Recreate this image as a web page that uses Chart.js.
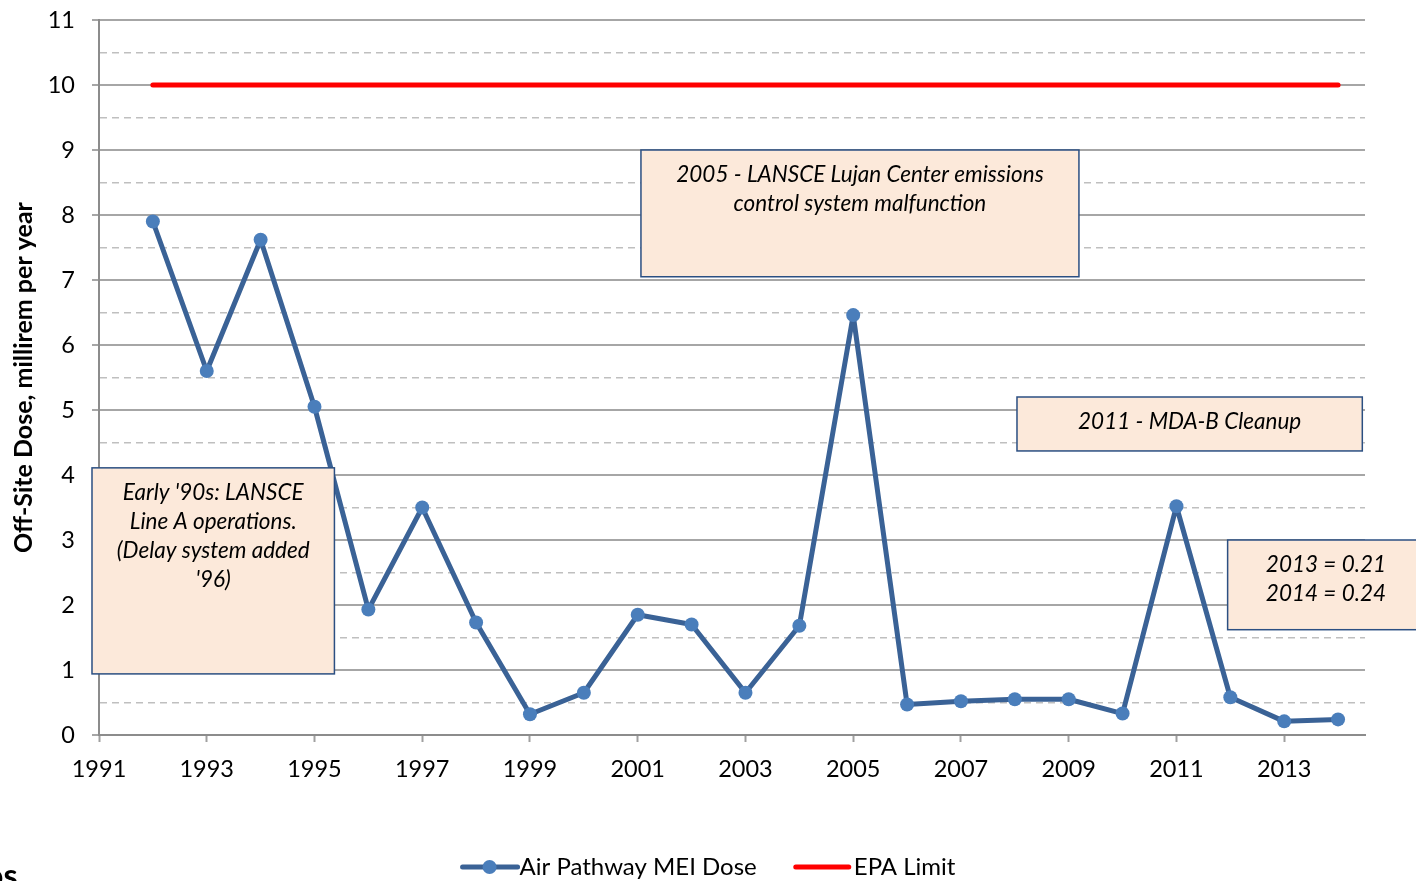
<!DOCTYPE html>
<html>
<head>
<meta charset="utf-8">
<script src="https://cdn.jsdelivr.net/npm/chart.js@4.4.1/dist/chart.umd.min.js"></script>
<style>
    html, body { margin: 0; padding: 0; background: #fff; }
</style>
</head>
<body>
<canvas id="grafica" width="1416" height="881"></canvas>
<script>
var anios = [1992, 1993, 1994, 1995, 1996, 1997, 1998, 1999, 2000, 2001, 2002, 2003,
             2004, 2005, 2006, 2007, 2008, 2009, 2010, 2011, 2012, 2013, 2014];
var dosisMEI = [7.9, 5.6, 7.62, 5.05, 1.93, 3.5, 1.73, 0.32, 0.65, 1.85, 1.7, 0.65,
                1.68, 6.46, 0.47, 0.52, 0.55, 0.55, 0.33, 3.52, 0.58, 0.21, 0.24];
var limiteEPA = [10, 10, 10, 10, 10, 10, 10, 10, 10, 10, 10, 10,
                 10, 10, 10, 10, 10, 10, 10, 10, 10, 10, 10];
var aniosEtiqueta = [1991, 1993, 1995, 1997, 1999, 2001, 2003, 2005, 2007, 2009, 2011, 2013];
var etiquetasY = [0, 1, 2, 3, 4, 5, 6, 7, 8, 9, 10, 11];

var nota90s = ["Early '90s: LANSCE", "Line A operations.", "(Delay system added", "'96)"];
var nota2005 = ["2005 - LANSCE Lujan Center emissions", "control system malfunction"];
var nota2011 = ["2011 - MDA-B Cleanup"];
var nota2013 = ["2013 = 0.21", "2014 = 0.24"];

var fuente = "Lato, 'Open Sans', sans-serif";

function esEntero(ctx) {
    return ctx.tick && Math.abs(ctx.tick.value - Math.round(ctx.tick.value)) < 1e-6;
}

// cajas de texto, en unidades del eje (x = año, y = dosis)
var cajas = [
    { texto: nota90s,  x1: 1990.87, x2: 1995.37, y1: 4.11, y2: 0.94 },
    { texto: nota2005, x1: 2001.06, x2: 2009.19, y1: 9.0,  y2: 7.05 },
    { texto: nota2011, x1: 2008.04, x2: 2014.45, y1: 5.2,  y2: 4.37 },
    { texto: nota2013, x1: 2011.95, x2: 2015.6,  y1: 3.0,  y2: 1.62 }
];

var notasPlugin = {
    id: 'notas',
    afterDatasetsDraw: function(chart) {
        var ctx = chart.ctx, sx = chart.scales.x, sy = chart.scales.y;
        ctx.save();
        cajas.forEach(function(c) {
            var l = sx.getPixelForValue(c.x1), r = sx.getPixelForValue(c.x2);
            var t = sy.getPixelForValue(c.y1), b = sy.getPixelForValue(c.y2);
            ctx.fillStyle = '#FCE9DA';
            ctx.fillRect(l, t, r - l, b - t);
            ctx.strokeStyle = '#2B4F82';
            ctx.lineWidth = 1.5;
            ctx.strokeRect(l, t, r - l, b - t);
            ctx.fillStyle = '#000';
            ctx.font = 'italic 22.5px ' + fuente;
            ctx.textAlign = 'center';
            ctx.textBaseline = 'middle';
            for (var i = 0; i < c.texto.length; i++) {
                ctx.fillText(c.texto[i], (l + r) / 2, t + 25 + i * 29);
            }
        });
        ctx.restore();
    },
    afterDraw: function(chart) {
        var ctx = chart.ctx;
        var ds = chart.data.datasets;
        var yl = chart.height - 14;
        ctx.save();
        ctx.font = '24px ' + fuente;
        ctx.textBaseline = 'middle';
        ctx.textAlign = 'left';
        var w1 = ctx.measureText(ds[0].label).width;
        var w2 = ctx.measureText(ds[1].label).width;
        var total = 59 + w1 + 37 + 57 + 3 + w2;
        var x = (chart.width - total) / 2;

        ctx.lineCap = 'round';
        ctx.lineWidth = 5;
        ctx.strokeStyle = ds[0].borderColor;
        ctx.beginPath(); ctx.moveTo(x + 2, yl); ctx.lineTo(x + 57, yl); ctx.stroke();
        ctx.fillStyle = ds[0].pointBackgroundColor;
        ctx.beginPath(); ctx.arc(x + 29, yl, 7, 0, Math.PI * 2); ctx.fill();
        ctx.fillStyle = '#000';
        ctx.fillText(ds[0].label, x + 59, yl);
        x += 59 + w1 + 37;

        ctx.strokeStyle = ds[1].borderColor;
        ctx.beginPath(); ctx.moveTo(x + 2, yl); ctx.lineTo(x + 55, yl); ctx.stroke();
        ctx.fillText(ds[1].label, x + 60, yl);

        // trozo de logo cortado abajo a la izquierda
        ctx.font = 'bold 32px ' + fuente;
        ctx.textBaseline = 'alphabetic';
        ctx.fillText('os', -15, chart.height + 6);
        ctx.restore();
    }
};

var gra = document.getElementById('grafica').getContext('2d');

var chart = new Chart(gra, {
    type: 'line',
    data: {
        datasets: [
            {
                label: 'Air Pathway MEI Dose',
                data: anios.map(function(a, i) { return { x: a, y: dosisMEI[i] }; }),
                borderColor: '#3A6296',
                borderWidth: 5,
                borderJoinStyle: 'round',
                pointBackgroundColor: '#4A7EBB',
                pointBorderColor: '#4A7EBB',
                pointRadius: 7,
                pointBorderWidth: 0,
                tension: 0,
                order: 1
            },
            {
                label: 'EPA Limit',
                data: anios.map(function(a, i) { return { x: a, y: limiteEPA[i] }; }),
                borderColor: '#FF0000',
                borderWidth: 5,
                borderCapStyle: 'round',
                pointRadius: 0,
                tension: 0,
                order: 2
            }
        ]
    },
    options: {
        responsive: false,
        animation: false,
        layout: { padding: { left: 0, right: 51, top: 20, bottom: 86 } },
        plugins: {
            legend: { display: false },
            tooltip: { enabled: false }
        },
        scales: {
            x: {
                type: 'linear',
                min: 1991,
                max: 2014.5,
                afterBuildTicks: function(scale) {
                    scale.ticks = aniosEtiqueta.map(function(v) { return { value: v }; });
                },
                afterFit: function(scale) {
                    scale.height = 60;
                    scale.paddingLeft = 0;
                    scale.paddingRight = 0;
                },
                grid: {
                    drawOnChartArea: false,
                    drawTicks: true,
                    tickLength: 7,
                    tickColor: '#A0A0A0',
                    tickWidth: 2
                },
                border: { color: '#8C8C8C', width: 2 },
                ticks: {
                    autoSkip: false,
                    maxRotation: 0,
                    padding: 13,
                    color: '#000',
                    font: { family: fuente, size: 23.5 },
                    callback: function(v) { return String(v); }
                }
            },
            y: {
                min: 0,
                max: 11,
                afterBuildTicks: function(scale) {
                    var t = [];
                    etiquetasY.forEach(function(v) {
                        t.push({ value: v });
                        if (v < 11) t.push({ value: v + 0.5 });
                    });
                    scale.ticks = t;
                },
                afterFit: function(scale) {
                    scale.width = 99;
                    scale.paddingTop = 0;
                    scale.paddingBottom = 0;
                },
                grid: {
                    color: function(ctx) { return esEntero(ctx) ? '#A6A6A6' : '#BFBFBF'; },
                    lineWidth: function(ctx) { return esEntero(ctx) ? 2 : 1.5; },
                    tickColor: function(ctx) { return esEntero(ctx) ? '#A6A6A6' : 'rgba(0,0,0,0)'; },
                    tickLength: 7
                },
                border: {
                    color: '#8C8C8C',
                    width: 2,
                    dash: function(ctx) { return (ctx.tick && !esEntero(ctx)) ? [7, 5] : []; }
                },
                ticks: {
                    padding: 17,
                    color: '#000',
                    font: { family: fuente, size: 23.5 },
                    callback: function(v) { return Number.isInteger(v) ? String(v) : ''; }
                },
                title: {
                    display: true,
                    text: 'Off-Site Dose, millirem per year',
                    color: '#000',
                    font: { family: fuente, size: 25, weight: 'bold' },
                    padding: { top: 9, bottom: 0 }
                }
            }
        }
    },
    plugins: [notasPlugin]
});
</script>
</body>
</html>
